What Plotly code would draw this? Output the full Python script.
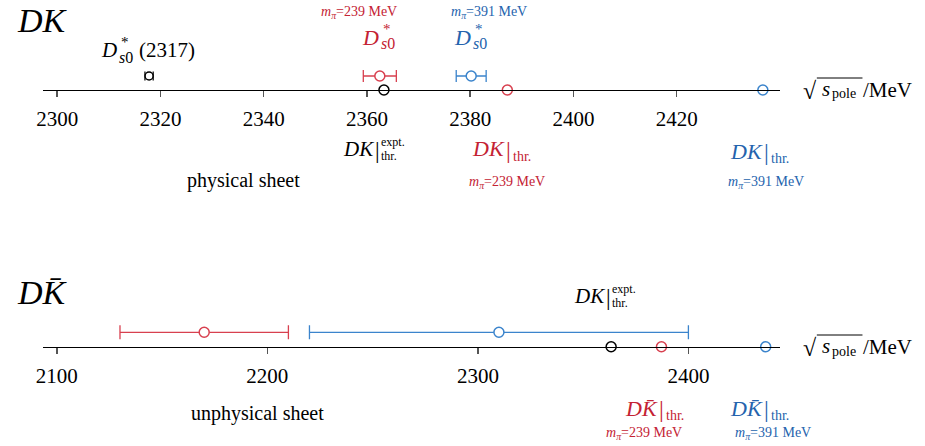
import plotly.graph_objects as go

# ---------------- data (MeV) ----------------
# physical sheet (DK)
expt_pole = [2317.8]
expt_pole_err = [0.8]
pole_239_phys = [2362.5]
pole_239_phys_err = [3.2]
pole_391_phys = [2380.2]
pole_391_phys_err = [2.9]
thr_expt = [2363.3]
thr_239 = [2387.2]
thr_391 = [2436.7]
# unphysical sheet (D Kbar)
pole_239_unphys = [2170.0]
pole_239_unphys_err = [40.0]
pole_391_unphys = [2310.0]
pole_391_unphys_err = [90.0]

top_ticks = [2300, 2320, 2340, 2360, 2380, 2400, 2420]
bot_ticks = [2100, 2200, 2300, 2400]

# ---------------- styling ----------------
W, H = 925, 446
FONT = "Liberation Serif, Times New Roman, DejaVu Serif, serif"
RED = "#d8404f"
RED_T = "#c42233"
BLUE = "#3b84cc"
BLUE_T = "#2463ad"

def yrange(p_axis, unit):
    r0 = -(H - p_axis) / unit
    return [r0, r0 + H / unit]

fig = go.Figure()

def pole(x, err, color, xa, ya, size=10, cap=6, lw=1.3):
    fig.add_trace(go.Scatter(
        x=x, y=[1] * len(x), xaxis=xa, yaxis=ya, mode="markers",
        marker=dict(symbol="circle", size=size, color="white",
                    line=dict(color=color, width=1.5)),
        error_x=dict(type="data", array=err, color=color, thickness=lw, width=cap),
        hoverinfo="skip", showlegend=False))

def thr(x, color, xa, ya, size=10):
    fig.add_trace(go.Scatter(
        x=x, y=[0] * len(x), xaxis=xa, yaxis=ya, mode="markers",
        marker=dict(symbol="circle", size=size, color="white",
                    line=dict(color=color, width=1.5)),
        hoverinfo="skip", showlegend=False))

# top panel
pole(expt_pole, expt_pole_err, "black", "x", "y", size=8, cap=4.5, lw=1.2)
pole(pole_239_phys, pole_239_phys_err, RED, "x", "y")
pole(pole_391_phys, pole_391_phys_err, BLUE, "x", "y")
thr(thr_expt, "black", "x", "y")
thr(thr_239, RED, "x", "y")
thr(thr_391, BLUE, "x", "y")

# bottom panel
pole(pole_239_unphys, pole_239_unphys_err, RED, "x2", "y2", cap=7)
pole(pole_391_unphys, pole_391_unphys_err, BLUE, "x2", "y2", cap=7)
thr(thr_expt, "black", "x2", "y2")
thr(thr_239, RED, "x2", "y2")
thr(thr_391, BLUE, "x2", "y2")

dom = [36 / W, 779.3 / W]
axis_common = dict(
    domain=dom, anchor="free", showgrid=False, zeroline=False,
    showline=True, linecolor="black", linewidth=1,
    ticks="outside", ticklen=6, tickwidth=1.5, tickcolor="#555",
    tickfont=dict(family=FONT, size=21, color="black"),
    ticklabelstandoff=4,
    tickmode="array", fixedrange=True,
)
fig.update_layout(
    width=W, height=H,
    margin=dict(l=0, r=0, t=0, b=0),
    paper_bgcolor="white", plot_bgcolor="rgba(0,0,0,0)",
    font=dict(family=FONT),
    xaxis=dict(axis_common, range=[2297.2, 2440.1], tickvals=top_ticks,
               position=(H - 90) / H),
    yaxis=dict(domain=[0, 1], range=yrange(90, 14), visible=False,
               anchor="x", fixedrange=True),
    xaxis2=dict(axis_common, range=[2093.3, 2443.7], tickvals=bot_ticks,
                position=(H - 346.7) / H),
    yaxis2=dict(domain=[0, 1], range=yrange(346.7, 14.4), visible=False,
                anchor="x2", overlaying="y", fixedrange=True),
)

def label(text, px, py, size, color="black", anchor="center", yanchor="middle"):
    fig.add_annotation(x=px / W, y=1 - py / H, xref="paper", yref="paper",
                       text=text, showarrow=False, xanchor=anchor, yanchor=yanchor,
                       font=dict(family=FONT, size=size, color=color))

def hline(x0, x1, py, color="black"):
    fig.add_shape(type="line", xref="paper", yref="paper",
                  x0=x0 / W, x1=x1 / W, y0=1 - py / H, y1=1 - py / H,
                  line=dict(color=color, width=1))

def dstar(xr, y, color, size=22, tail=None):
    label("<i>D</i>", xr, y, size, color, "right")
    label("*", xr, y - 8, 15, color, "left")
    label("<i>s</i>0", xr - 2, y + 7, 16, color, "left")
    if tail:
        label(tail, xr + 18, y, size, color, "left")

def thr_label(main, xbar, y, color, sup=None, sub="thr.", size=22, dy_sub=7):
    label(main, xbar - 1, y, size, color, "right")
    label("|", xbar, y + 1, size + 2, color, "center")
    if sup:
        label(sup, xbar + 2, y - 7, 12, color, "left")
        label(sub, xbar + 2, y + 7, 12, color, "left")
    else:
        label(sub, xbar + 3, y + dy_sub, 14, color, "left")

def sqrt_label(y):
    label("√", 818, y + 1, 24, "black", "right")
    label("<i>s</i>", 819, y - 1, 21, "black", "left")
    label("pole", 829, y + 4, 14, "black", "left")
    hline(816, 862, y - 12)
    label("/MeV", 861, y, 21, "black", "left")

MPI = "<i>m</i><sub><i>π</i></sub>=%s MeV"
KBAR = "<i>DK\u0304</i>"

# top panel labels
label("<i>DK</i>", 36, 0, 34, yanchor="top")
dstar(113, 50, "black", 21, "(2317)")
label(MPI % "239", 355, 13, 14, RED_T)
dstar(377, 37, RED_T)
label(MPI % "391", 486, 13, 14, BLUE_T)
dstar(470, 37, BLUE_T)
sqrt_label(90)
thr_label("<i>DK</i>", 373, 149, "black", sup="expt.", size=21)
label("physical sheet", 238, 180, 20)
thr_label("<i>DK</i>", 505, 149, RED_T)
label(MPI % "239", 504, 182, 14, RED_T)
thr_label("<i>DK</i>", 765, 151, BLUE_T)
label(MPI % "391", 765, 183, 14, BLUE_T)

# bottom panel labels
label(KBAR, 36, 292, 34)
thr_label("<i>DK</i>", 606, 296, "black", sup="expt.", size=21)
label("unphysical sheet", 252, 413, 20)
sqrt_label(347)
thr_label(KBAR, 659, 408, RED_T)
thr_label(KBAR, 765, 408, BLUE_T)
label(MPI % "239", 642, 433, 14, RED_T)
label(MPI % "391", 772, 433, 14, BLUE_T)

fig.write_html("out.html", config={"displayModeBar": False, "staticPlot": True})
